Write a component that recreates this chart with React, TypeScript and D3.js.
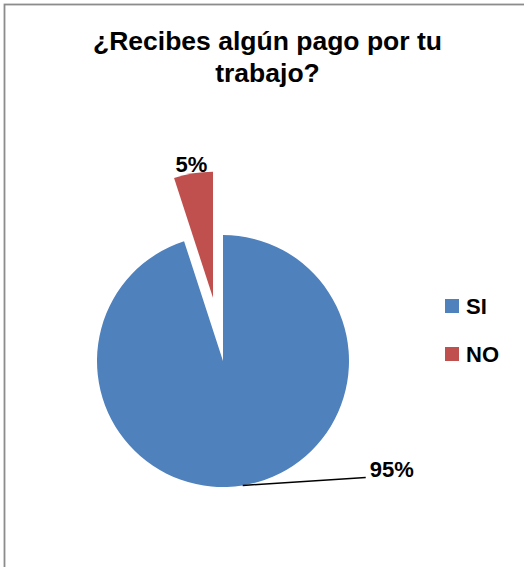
import React from "react";
import * as d3 from "d3";

const categories = ["SI", "NO"];
const values = [95, 5];
const labels = ["95%", "5%"];
const colors = ["#4F81BD", "#C0504D"];
const titleLines = ["¿Recibes algún pago por tu", "trabajo?"];

export default function App() {
  const W = 524, H = 567;
  const cx = 223, cy = 361, r = 126;
  const explode = [0, 64];
  const pie = d3.pie<number>().sort(null).value((d) => d)(values);
  const arc = d3.arc<d3.PieArcDatum<number>>().innerRadius(0).outerRadius(r);
  const labelFont = "'Liberation Sans', Arial, sans-serif";

  return (
    <svg width={W} height={H} style={{ position: "absolute", left: 0, top: 0 }}>
      <rect x={0} y={0} width={W} height={H} fill="#fff" />
      <rect x={4.5} y={4.5} width={W + 20} height={H + 20} fill="none" stroke="#8c8c8c" strokeWidth={1.8} />
      <g fontFamily="'Liberation Sans', Arial, sans-serif" fontWeight="bold" fontSize={26.5} textAnchor="middle" fill="#000">
        {titleLines.map((t, i) => (
          <text key={i} x={267.5} y={50 + i * 32}>{t}</text>
        ))}
      </g>
      <g transform={`translate(${cx},${cy})`}>
        {pie.map((p, i) => {
          const mid = (p.startAngle + p.endAngle) / 2;
          const dx = Math.sin(mid) * explode[i];
          const dy = -Math.cos(mid) * explode[i];
          return (
            <path key={i} d={arc(p) || ""} fill={colors[i]} transform={`translate(${dx},${dy})`} />
          );
        })}
        {pie.map((p, i) => {
          const mid = (p.startAngle + p.endAngle) / 2;
          const e = explode[i];
          if (i === 0) {
            const sx = Math.sin(mid) * r;
            const sy = -Math.cos(mid) * r;
            const ex = sx + 123, ey = sy - 8;
            return (
              <g key={i}>
                <line x1={sx} y1={sy} x2={ex} y2={ey} stroke="#000" strokeWidth={1.5} />
                <text x={ex + 4} y={ey} fontFamily={labelFont} fontWeight="bold" fontSize={22} fill="#000">{labels[i]}</text>
              </g>
            );
          }
          const lx = Math.sin(mid) * (r + e);
          const ly = -Math.cos(mid) * (r + e);
          return (
            <text key={i} x={lx - 2} y={ly - 1} textAnchor="middle" fontFamily={labelFont} fontWeight="bold" fontSize={22} fill="#000">{labels[i]}</text>
          );
        })}
      </g>
      <g fontFamily={labelFont} fontWeight="bold" fontSize={22} fill="#000">
        {categories.map((c, i) => (
          <g key={c} transform={`translate(445,${299 + i * 48})`}>
            <rect x={0} y={0} width={14} height={14} fill={colors[i]} />
            <text x={21} y={15}>{c}</text>
          </g>
        ))}
      </g>
    </svg>
  );
}
